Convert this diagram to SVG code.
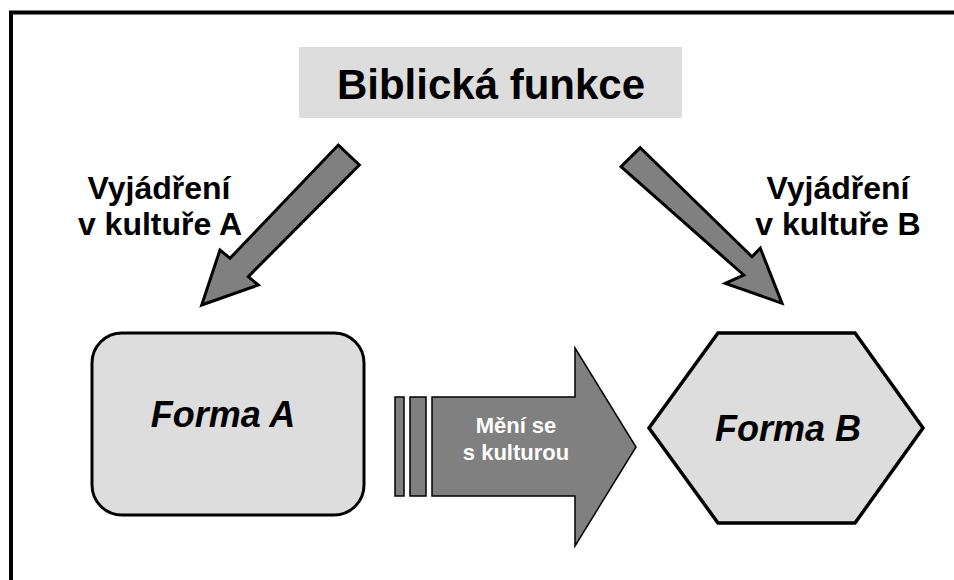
<svg xmlns="http://www.w3.org/2000/svg" width="954" height="580" viewBox="0 0 954 580">
<style>
text{font-family:"Liberation Sans",Arial,sans-serif;font-weight:bold;text-anchor:middle}
.lbl{font-size:32px;fill:#000}
.form{font-size:36px;font-style:italic;fill:#000}
.light{fill:#dddddd}
.sarrow{fill:#808080;stroke:#000;stroke-width:3;stroke-linejoin:miter}
.big{fill:#808080;stroke:#000;stroke-width:1.5}
</style>
<rect width="954" height="580" fill="#fff"/>
<path d="M11 580 V12.5 H954" fill="none" stroke="#000" stroke-width="4"/>

<g id="title">
<rect class="light" x="299" y="47" width="383" height="71"/>
<text x="491" y="99" style="font-size:42px">Biblická funkce</text>
</g>

<g id="labelA">
<text class="lbl" x="159" y="199">Vyjádření</text>
<text class="lbl" x="160" y="235">v kultuře A</text>
</g>
<g id="labelB">
<text class="lbl" x="838" y="199">Vyjádření</text>
<text class="lbl" x="838" y="235">v kultuře B</text>
</g>

<g id="formaA">
<rect class="light" x="92" y="333" width="272" height="182" rx="30" ry="30" stroke="#000" stroke-width="3"/>
<text class="form" x="223" y="427">Forma A</text>
</g>

<g id="formaB">
<polygon class="light" points="718,333 855,333 923,428 855,523 718,523 649,428" stroke="#000" stroke-width="3.5"/>
<text class="form" x="788" y="441">Forma B</text>
</g>

<g id="connectors">
<polygon class="sarrow" points="338.3,145 359.3,165 248.3,276.7 258.3,285 201.7,305 220,250 230,258.3"/>
<polygon class="sarrow" points="640.3,147.7 752,256.7 760.3,248.3 782,303.3 725.3,283.3 743.7,275 621,166.7"/>
<g id="change">
<rect class="big" x="395" y="397" width="9" height="99"/>
<rect class="big" x="410" y="397" width="16" height="99"/>
<polygon class="big" points="432,397 575,397 575,348 636,447 575,546 575,496 432,496"/>
<text x="516" y="433" style="font-size:22px;fill:#fff">Mění se</text>
<text x="516" y="460" style="font-size:22px;fill:#fff">s kulturou</text>
</g>
</g>
</svg>
